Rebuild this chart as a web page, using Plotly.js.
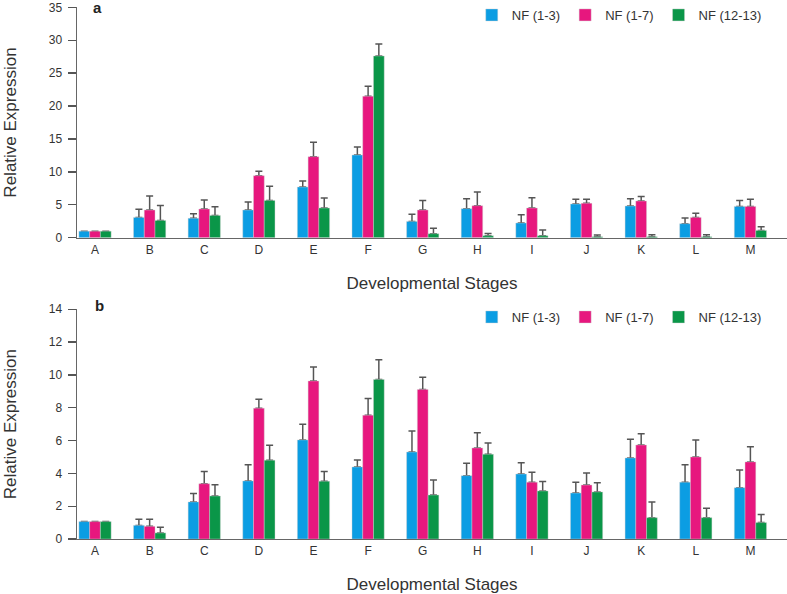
<!DOCTYPE html>
<html>
<head>
<meta charset="utf-8">
<script src="https://cdn.plot.ly/plotly-3.0.1.min.js"></script>
<style>html,body{margin:0;padding:0;background:#fff;}#chart{width:787px;height:594px;}</style>
</head>
<body>
<div id="chart"></div>
<script>
// Categories (developmental stages)
const stages = ['A','B','C','D','E','F','G','H','I','J','K','L','M'];
const seriesNames = ['NF (1-3)', 'NF (1-7)', 'NF (12-13)'];

// Panel a: mean relative expression and upper error (SD)
const a_nf13 = [1.0, 3.09, 2.94, 4.20, 7.70, 12.56, 2.48, 4.41, 2.23, 5.12, 4.81, 2.13, 4.76];
const a_nf13_err = [null, 1.22, 0.71, 1.22, 0.91, 1.22, 1.07, 1.52, 1.27, 0.71, 1.12, 0.86, 0.91];
const a_nf17 = [1.0, 4.20, 4.36, 9.42, 12.31, 21.48, 4.20, 4.86, 4.51, 5.22, 5.57, 3.09, 4.76];
const a_nf17_err = [null, 2.13, 1.36, 0.66, 2.18, 1.52, 1.47, 2.08, 1.57, 0.61, 0.71, 0.61, 1.07];
const a_nf1213 = [1.0, 2.63, 3.39, 5.67, 4.51, 27.61, 0.61, 0.30, 0.30, 0.15, 0.15, 0.15, 1.11];
const a_nf1213_err = [null, 2.28, 1.32, 2.13, 1.52, 1.82, 0.81, 0.36, 0.87, 0.26, 0.31, 0.31, 0.56];

// Panel b
const b_nf13 = [1.06, 0.83, 2.26, 3.54, 6.04, 4.39, 5.30, 3.86, 3.96, 2.80, 4.94, 3.46, 3.13];
const b_nf13_err = [null, 0.37, 0.52, 0.99, 0.95, 0.43, 1.29, 0.75, 0.69, 0.66, 1.14, 1.07, 1.08];
const b_nf17 = [1.06, 0.77, 3.37, 7.97, 9.63, 7.54, 9.11, 5.55, 3.46, 3.29, 5.73, 5.00, 4.70];
const b_nf17_err = [null, 0.43, 0.74, 0.55, 0.86, 1.02, 0.75, 0.93, 0.61, 0.73, 0.69, 1.04, 0.93];
const b_nf1213 = [1.06, 0.37, 2.62, 4.80, 3.52, 9.72, 2.68, 5.16, 2.93, 2.87, 1.30, 1.30, 1.00];
const b_nf1213_err = [null, 0.34, 0.69, 0.91, 0.59, 1.21, 0.92, 0.69, 0.57, 0.56, 0.96, 0.57, 0.50];

const colors = ['#0B9DE3', '#E7177E', '#0A9648'];
const FONT = 'Liberation Sans, Arial, sans-serif';

function panelTraces(vals, errs, xa, ya, legendId) {
  const out = [];
  vals.forEach((v, i) => {
    const grp = 's' + i;
    // error-bar carrier (drawn first so the visible bar hides the lower cap)
    out.push({
      type: 'bar', x: stages, y: v, xaxis: xa, yaxis: ya,
      offsetgroup: grp, showlegend: false, hoverinfo: 'skip',
      marker: {color: 'rgba(0,0,0,0)', line: {width: 0}},
      error_y: {type: 'data', symmetric: false, array: errs[i],
                arrayminus: errs[i].map(e => e === null ? null : 0),
                color: '#555555', thickness: 1.5, width: 3.5}
    });
    out.push({
      type: 'bar', x: stages, y: v, xaxis: xa, yaxis: ya,
      offsetgroup: grp, name: seriesNames[i], legend: legendId,
      marker: {color: colors[i], line: {width: 0.6, color: 'rgba(210,210,210,0.7)'}}
    });
  });
  return out;
}

const data = [].concat(
  panelTraces([a_nf13, a_nf17, a_nf1213], [a_nf13_err, a_nf17_err, a_nf1213_err], 'x', 'y', 'legend'),
  panelTraces([b_nf13, b_nf17, b_nf1213], [b_nf13_err, b_nf17_err, b_nf1213_err], 'x2', 'y2', 'legend2')
);

const xBase = {
  type: 'category', range: [-0.33, 12.67], showline: true, linecolor: '#666', linewidth: 1.5,
  ticks: '', showgrid: false, zeroline: false, tickfont: {size: 12, color: '#333'},
  title: {text: 'Developmental Stages', font: {size: 17, color: '#333'}, standoff: 21}
};
const yBase = {
  showline: true, linecolor: '#666', linewidth: 1.5, ticks: 'outside', ticklen: 8,
  tickwidth: 1.3, tickcolor: '#555', showgrid: false, zeroline: false,
  ticklabelstandoff: 3,
  tickfont: {size: 12, color: '#333'},
  title: {text: 'Relative Expression', font: {size: 17, color: '#333'}, standoff: 28}
};

const legendBase = {
  orientation: 'h', xanchor: 'left', yanchor: 'top', font: {size: 13, color: '#333'},
  bgcolor: 'rgba(0,0,0,0)', traceorder: 'normal'
};

const layout = {
  width: 787, height: 594,
  margin: {l: 77, r: 0, t: 0, b: 0},
  paper_bgcolor: '#fff', plot_bgcolor: '#fff',
  font: {family: FONT, color: '#333'},
  barmode: 'group', bargap: 0.41, bargroupgap: 0,
  xaxis: Object.assign({}, xBase, {domain: [0, 1], anchor: 'y'}),
  yaxis: Object.assign({}, yBase, {domain: [0.5998, 0.9877], range: [0, 35], dtick: 5, anchor: 'x'}),
  xaxis2: Object.assign({}, xBase, {domain: [0, 1], anchor: 'y2'}),
  yaxis2: Object.assign({}, yBase, {domain: [0.0926, 0.4793], range: [0, 14], dtick: 2, anchor: 'x2'}),
  legend: Object.assign({}, legendBase, {x: 0.556, y: 1.0}),
  legend2: Object.assign({}, legendBase, {x: 0.556, y: 0.4916}),
  showlegend: true,
  annotations: [
    {text: '<b>a</b>', xref: 'paper', yref: 'paper', x: 0.0282, y: 0.988, xanchor: 'center', yanchor: 'middle', showarrow: false, font: {size: 15, color: '#222'}},
    {text: '<b>b</b>', xref: 'paper', yref: 'paper', x: 0.031, y: 0.4865, xanchor: 'center', yanchor: 'middle', showarrow: false, font: {size: 15, color: '#222'}}
  ]
};

Plotly.newPlot('chart', data, layout, {displayModeBar: false, staticPlot: true});
</script>
</body>
</html>
